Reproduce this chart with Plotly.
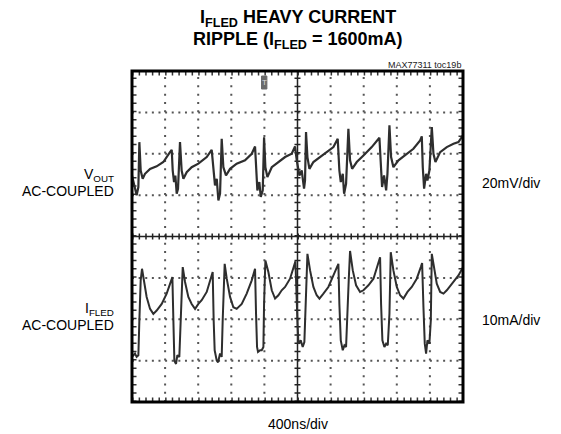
import plotly.graph_objects as go

# ---------------- data ----------------
# VOUT, AC-coupled: time in ns, value in mV (20 mV/div)
vout_t = [0, 56, 77, 89, 105, 129, 157, 218, 298, 379, 459, 480,
          492, 508, 524, 540, 556, 580, 600, 621, 661, 721, 802, 903, 963,
          983, 1003, 1024, 1044, 1064, 1084, 1104, 1136, 1185, 1265, 1366, 1447, 1487,
          1499, 1515, 1539, 1556, 1580, 1596, 1612, 1636, 1689, 1769, 1850, 1930, 1970,
          1991, 2023, 2051, 2079, 2091, 2103, 2120, 2144, 2192, 2273, 2353, 2434, 2486,
          2506, 2523, 2547, 2563, 2587, 2615, 2635, 2660, 2716, 2797, 2897, 2990,
          3006, 3022, 3046, 3071, 3087, 3111, 3131, 3159, 3220, 3300, 3401, 3482, 3502,
          3514, 3530, 3554, 3570, 3594, 3623, 3643, 3667, 3724, 3804, 3885, 3945, 4000]
vout_mv = [-5.5, -15.1, -11.1, 10.6, -3.1, -7.1, -4.7, -2.3, -1.1, 1.0, 5.8, 6.9,
           -3.1, -8.7, -5.5, -14.3, -11.9, 10.6, -3.1, -7.1, -3.9, -1.5, 0.2, 3.4, 6.9,
           -3.1, -10.3, -7.1, -17.6, -14.3, 12.2, -1.5, -5.5, -2.3, 0.2, 1.8, 5.0, 8.5,
           -3.1, -12.7, -8.7, -15.9, -12.7, 13.0, -1.5, -6.3, -1.5, 1.0, 3.4, 5.0, 8.5,
           1.8, -5.5, -3.1, -11.9, -7.9, 15.5, 3.4, -2.3, 1.0, 3.4, 5.8, 8.2, 12.2,
           -3.1, -8.7, -4.7, -14.3, -9.5, 17.1, 1.8, -2.3, 1.0, 4.2, 8.2, 12.7,
           -1.5, -11.1, -5.5, -12.7, -4.7, 18.7, 3.4, -1.5, 1.8, 4.2, 7.4, 11.4, 13.4,
           -1.5, -11.9, -4.7, -7.9, -3.1, 17.9, 5.0, 1.0, 5.8, 8.2, 9.8, 10.6, 13.9]

# IFLED, AC-coupled: time in ns, value in mA (10 mA/div)
ifled_t = [0, 36, 56, 77, 89, 105, 121, 145, 177, 218, 258, 298, 359, 419, 459, 488,
           500, 512, 532, 548, 572, 588, 600, 613, 641, 681, 721, 762, 802, 842, 903, 943, 975,
           987, 999, 1024, 1040, 1064, 1084, 1096, 1108, 1120, 1145, 1185, 1225, 1265, 1326, 1386, 1447, 1487,
           1499, 1511, 1523, 1548, 1568, 1588, 1596, 1612, 1648, 1689, 1729, 1769, 1809, 1850, 1910, 1975,
           1999, 2011, 2039, 2063, 2083, 2099, 2120, 2152, 2192, 2232, 2265, 2313, 2373, 2434, 2494,
           2506, 2523, 2547, 2567, 2587, 2603, 2619, 2635, 2668, 2708, 2756, 2797, 2857, 2918, 2966, 2998,
           3010, 3026, 3050, 3071, 3091, 3111, 3127, 3159, 3200, 3240, 3280, 3329, 3381, 3441, 3490, 3506,
           3522, 3538, 3554, 3570, 3594, 3611, 3623, 3651, 3683, 3724, 3764, 3804, 3885, 3945, 4000]
ifled_ma = [-14.1, -13.3, -14.1, -13.7, -5.3, 4.4, 7.2, 4.4, 0.4, -2.5, -3.7, -2.9, -1.3, 1.2, 3.6, 5.2,
            -5.3, -15.0, -15.8, -13.7, -14.1, -5.3, 5.2, 7.6, 4.0, 0.4, -1.3, -2.5, -1.3, -0.4, 1.6, 4.0, 6.4,
            -5.3, -12.5, -15.0, -15.4, -13.3, -14.1, -5.3, 5.2, 8.4, 4.8, 0.4, -2.1, -2.5, -1.3, 1.2, 4.4, 7.2,
            -3.7, -11.7, -12.9, -12.5, -12.5, -11.7, -1.3, 9.2, 6.4, 2.0, 0.0, 0.8, 2.0, 2.8, 4.8, 9.0,
            -5.3, -10.9, -10.1, -11.7, -10.5, -1.3, 10.8, 6.8, 2.8, 0.8, 0.0, 1.2, 2.8, 5.6, 8.4,
            -1.3, -10.1, -12.5, -11.3, -11.7, -5.3, 4.4, 11.5, 6.8, 3.2, 1.6, 2.0, 3.2, 4.8, 7.6, 10.0,
            -1.3, -10.1, -11.7, -10.9, -11.3, -3.7, 11.2, 6.8, 2.8, 0.8, 0.0, 1.6, 2.8, 4.8, 7.6, 8.6,
            -2.1, -10.9, -13.3, -10.1, -10.9, -5.3, 10.8, 7.6, 3.6, 1.6, 1.2, 2.0, 4.0, 5.6, 7.6]

# scope settings
time_per_div_ns = 400
x_divs = 10
y_divs = 8
vout_range = [-115, 45]     # 8 div x 20 mV
ifled_range = [-25, 55]     # 8 div x 10 mA

# ---------------- figure ----------------
# The page body has an 8px margin, so the figure is laid out 8px smaller
OFF = 8
W, H = 561 - OFF, 434 - OFF
PLOT_L, PLOT_T, PW, PH = 132, 71, 331, 331          # wanted absolute plot box
L, T = PLOT_L - OFF, PLOT_T - OFF
R = W - L - PW
B = H - T - PH
FONT = "Arial, 'Liberation Sans', Helvetica, sans-serif"

fig = go.Figure()
fig.add_trace(go.Scatter(x=vout_t, y=vout_mv, mode="lines", yaxis="y",
                         line=dict(color="#2e2e2e", width=2.2), hoverinfo="skip",
                         showlegend=False))
fig.add_trace(go.Scatter(x=ifled_t, y=ifled_ma, mode="lines", yaxis="y2",
                         line=dict(color="#2e2e2e", width=2.0), hoverinfo="skip",
                         showlegend=False))

xmax = time_per_div_ns * x_divs
shapes = []
# dotted grid lines (dots every minor division)
vdot = PH / y_divs / 5.0
hdot = PW / x_divs / 5.0
for i in range(1, x_divs):
    if i == x_divs // 2:
        continue
    shapes.append(dict(type="line", xref="x", yref="paper", x0=i * time_per_div_ns, x1=i * time_per_div_ns,
                       y0=0, y1=1, layer="below",
                       line=dict(color="#555555", width=2, dash=f"2px,{vdot-2:.2f}px")))
for j in range(1, y_divs):
    if j == y_divs // 2:
        continue
    shapes.append(dict(type="line", xref="paper", yref="paper", x0=0, x1=1,
                       y0=j / y_divs, y1=j / y_divs, layer="below",
                       line=dict(color="#555555", width=2, dash=f"2px,{hdot-2:.2f}px")))
# center cross with minor ticks
shapes.append(dict(type="line", xref="paper", yref="paper", x0=0, x1=1, y0=0.5, y1=0.5,
                   layer="below", line=dict(color="#222222", width=1.5)))
shapes.append(dict(type="line", xref="paper", yref="paper", x0=0.5, x1=0.5, y0=0, y1=1,
                   layer="below", line=dict(color="#222222", width=1.5)))
shapes.append(dict(type="line", xref="paper", yref="paper", x0=0, x1=1, y0=0.5, y1=0.5,
                   layer="below", line=dict(color="#222222", width=6, dash=f"1.5px,{hdot-1.5:.2f}px")))
shapes.append(dict(type="line", xref="paper", yref="paper", x0=0.5, x1=0.5, y0=0, y1=1,
                   layer="below", line=dict(color="#222222", width=6, dash=f"1.5px,{vdot-1.5:.2f}px")))
# border minor ticks (inside)
dx = 2.5 / PW
dy = 2.5 / PH
shapes.append(dict(type="line", xref="paper", yref="paper", x0=0, x1=1, y0=1 - dy, y1=1 - dy,
                   layer="below", line=dict(color="#333333", width=4, dash=f"1.5px,{hdot-1.5:.2f}px")))
shapes.append(dict(type="line", xref="paper", yref="paper", x0=0, x1=1, y0=dy, y1=dy,
                   layer="below", line=dict(color="#333333", width=4, dash=f"1.5px,{hdot-1.5:.2f}px")))
shapes.append(dict(type="line", xref="paper", yref="paper", x0=dx, x1=dx, y0=0, y1=1,
                   layer="below", line=dict(color="#333333", width=4, dash=f"1.5px,{vdot-1.5:.2f}px")))
shapes.append(dict(type="line", xref="paper", yref="paper", x0=1 - dx, x1=1 - dx, y0=0, y1=1,
                   layer="below", line=dict(color="#333333", width=4, dash=f"1.5px,{vdot-1.5:.2f}px")))
# border
shapes.append(dict(type="rect", xref="paper", yref="paper", x0=0, x1=1, y0=0, y1=1,
                   layer="above", line=dict(color="#000000", width=3)))
# trigger marker
shapes.append(dict(type="rect", xref="x", yref="paper", x0=1565, x1=1630,
                   y0=(PH - 18) / PH, y1=(PH - 5) / PH, layer="above",
                   fillcolor="#6a6a6a", line=dict(color="#6a6a6a", width=1)))


def py(Y):
    # absolute page pixel Y -> paper coordinate
    return (PLOT_T + PH - Y) / PH


def px(X):
    return (X - PLOT_L) / PW


ann = []
ann.append(dict(text="<b>I<sub>FLED</sub> HEAVY CURRENT</b>", x=0.5, y=py(19), xanchor="center",
                yanchor="middle", font=dict(size=18, color="#000"), showarrow=False))
ann.append(dict(text="<b>RIPPLE (I<sub>FLED</sub> = 1600mA)</b>", x=0.5, y=py(40), xanchor="center",
                yanchor="middle", font=dict(size=18, color="#000"), showarrow=False))
ann.append(dict(text="MAX77311 toc19b", x=1.0, y=py(65), xanchor="right", yanchor="middle",
                font=dict(size=9, color="#222"), showarrow=False))
ann.append(dict(text="T", x=1597, xref="x", y=py(82.5), xanchor="center", yanchor="middle",
                font=dict(size=8, color="#dddddd"), showarrow=False))
ann.append(dict(text="V<sub>OUT</sub>", x=px(116), y=py(175), xanchor="right", yanchor="middle",
                font=dict(size=14, color="#000"), showarrow=False))
ann.append(dict(text="AC-COUPLED", x=px(116), y=py(191), xanchor="right", yanchor="middle",
                font=dict(size=14, color="#000"), showarrow=False))
ann.append(dict(text="I<sub>FLED</sub>", x=px(116), y=py(309), xanchor="right", yanchor="middle",
                font=dict(size=14, color="#000"), showarrow=False))
ann.append(dict(text="AC-COUPLED", x=px(116), y=py(325), xanchor="right", yanchor="middle",
                font=dict(size=14, color="#000"), showarrow=False))
ann.append(dict(text="20mV/div", x=px(480), y=py(183), xanchor="left", yanchor="middle",
                font=dict(size=14, color="#000"), showarrow=False))
ann.append(dict(text="10mA/div", x=px(480), y=py(320), xanchor="left", yanchor="middle",
                font=dict(size=14, color="#000"), showarrow=False))
ann.append(dict(text="400ns/div", x=0.5, y=py(424), xanchor="center", yanchor="middle",
                font=dict(size=14, color="#000"), showarrow=False))
for a in ann:
    a.setdefault("xref", "paper")
    a["yref"] = "paper"

fig.update_layout(
    width=W, height=H,
    margin=dict(l=L, r=R, t=T, b=B, autoexpand=False),
    paper_bgcolor="white", plot_bgcolor="white",
    font=dict(family=FONT, color="#000"),
    xaxis=dict(range=[0, xmax], visible=False, fixedrange=True),
    yaxis=dict(range=vout_range, visible=False, fixedrange=True),
    yaxis2=dict(range=ifled_range, visible=False, overlaying="y", fixedrange=True),
    shapes=shapes, annotations=ann, showlegend=False,
)

fig.write_html("out.html", config={"displayModeBar": False})
